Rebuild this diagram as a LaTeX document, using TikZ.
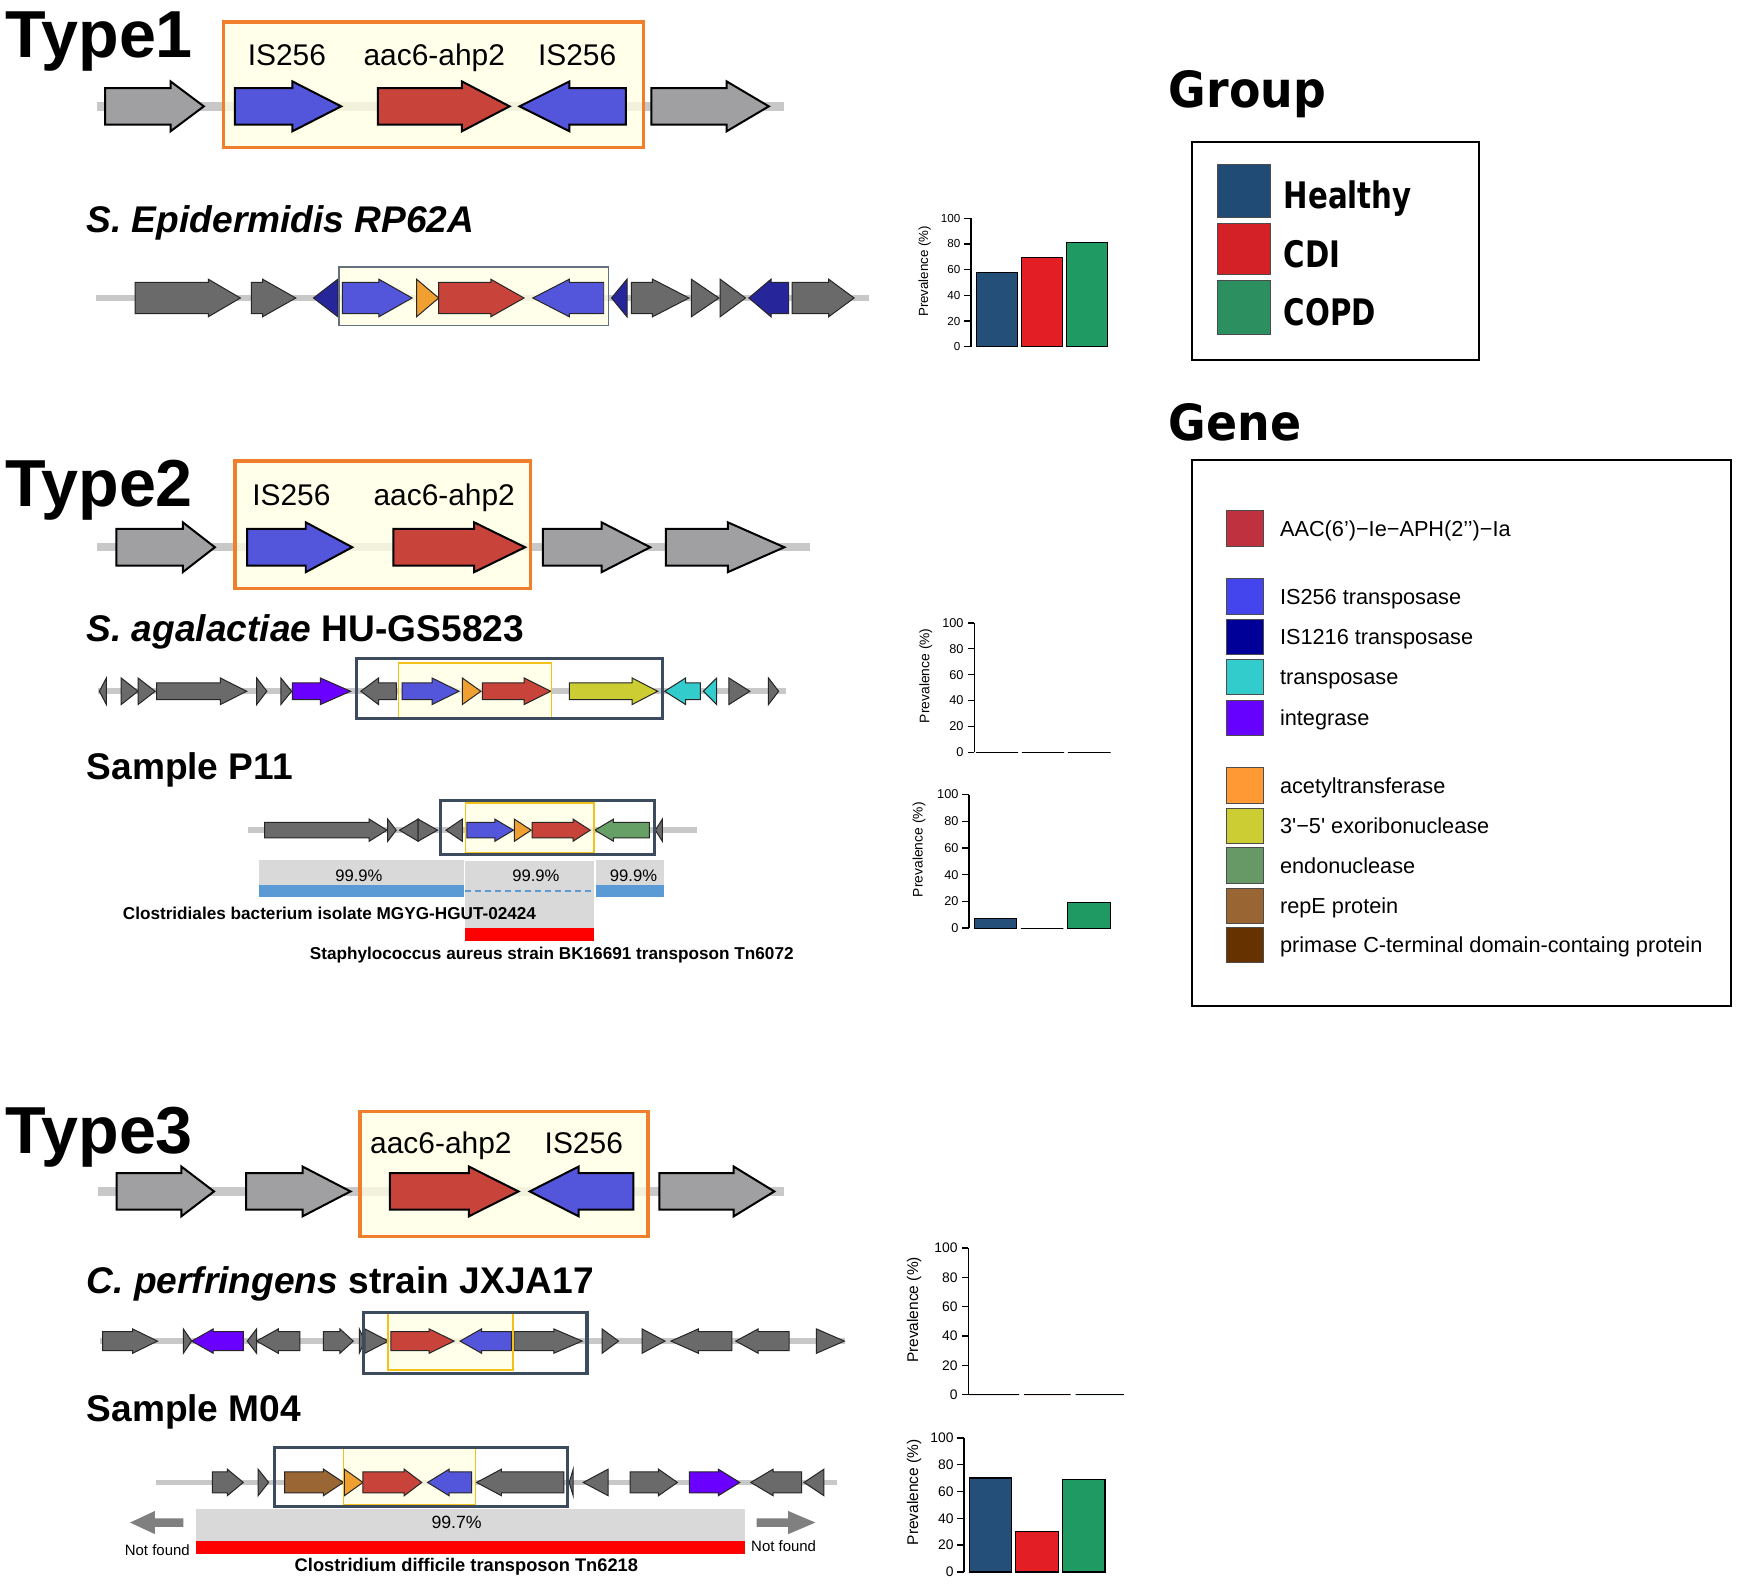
\documentclass[tikz,border=0pt]{standalone}
\usepackage{fontspec}
\setmainfont{Liberation Sans}
\newfontfamily\heavyf[FakeStretch=0.92]{DejaVu Sans}
\newfontfamily\grpf[FakeStretch=0.8]{DejaVu Sans}
\newcommand\fsz[1]{\fontsize{#1}{#1}\selectfont}
\definecolor{gtype}{HTML}{A09FA2}
\definecolor{gdark}{HTML}{6A6A6A}
\definecolor{gblue}{HTML}{5355DB}
\definecolor{gred}{HTML}{C8433A}
\definecolor{gnavy}{HTML}{26269A}
\definecolor{gorange}{HTML}{F0A030}
\definecolor{gpurple}{HTML}{6A00FF}
\definecolor{gcyan}{HTML}{33CCCC}
\definecolor{golive}{HTML}{CCCC33}
\definecolor{ggreen}{HTML}{66A066}
\definecolor{gbrown}{HTML}{9A6633}
\definecolor{boxorange}{HTML}{EF7F2A}
\definecolor{yfill}{HTML}{FFFFE3}
\definecolor{boxnavy}{HTML}{3D4B5F}
\definecolor{boxyellow}{HTML}{F3C11B}
\definecolor{bbgray}{HTML}{C8C8C8}
\definecolor{algray}{HTML}{D9D9D9}
\definecolor{alblue}{HTML}{5B9BD5}
\definecolor{alred}{HTML}{FF0000}
\definecolor{cH}{HTML}{234F78}
\definecolor{cC}{HTML}{E31E24}
\definecolor{cP}{HTML}{1F9A62}
\definecolor{sH}{HTML}{1F4B74}
\definecolor{sC}{HTML}{D42027}
\definecolor{sP}{HTML}{2B8F5F}
\definecolor{lAAC}{HTML}{C0313F}
\definecolor{lIS}{HTML}{4545EE}
\definecolor{lIS1216}{HTML}{000099}
\definecolor{lTr}{HTML}{33CCCC}
\definecolor{lInt}{HTML}{6600FF}
\definecolor{lAc}{HTML}{FF9933}
\definecolor{lExo}{HTML}{CCCC33}
\definecolor{lEndo}{HTML}{669966}
\definecolor{lRep}{HTML}{996633}
\definecolor{lPri}{HTML}{663300}
\tikzset{
  gt/.style={draw=black, line width=1.8pt, line join=miter},
  gm/.style={draw=black!85, line width=0.9pt, line join=miter},
  gs/.style={gt},
  bbt/.style={draw=bbgray, line width=7.5pt},
  bbm/.style={draw=bbgray, line width=5pt},
  obox/.style={draw=boxorange, line width=3pt},
  nbox/.style={draw=boxnavy, line width=3pt},
  ybox/.style={draw=boxyellow, line width=1.5pt},
  yfillst/.style={fill=yfill, fill opacity=0.75},
  typelab/.style={font=\fsz{60}\bfseries, anchor=base west, inner sep=0pt},
  genelab/.style={font=\fsz{27}, anchor=base, inner sep=0pt},
  title/.style={font=\fsz{33.5}\bfseries, anchor=base west, inner sep=0pt},
  alnlab/.style={font=\fsz{15.5}\bfseries, anchor=west, inner sep=0pt},
  pct/.style={font=\fsz{15}, inner sep=0pt},
  bar/.style={draw=black, line width=1pt},
  legsw/.style={draw=black!70, line width=0.8pt},
  leglab/.style={font=\fsz{19.6}, anchor=base west, inner sep=0pt},
  grplab/.style={font=\grpf\bfseries\fsz{33}, anchor=base west, inner sep=0pt},
  header/.style={font=\heavyf\bfseries\fsz{45}, anchor=base west, inner sep=0pt},
}
\newcommand\gArR[4]{\filldraw[gs,fill=#4] (#1,\gy-\gb) -- (#2,\gy-\gb) -- (#2,\gy-\gh) -- (#3,\gy) -- (#2,\gy+\gh) -- (#2,\gy+\gb) -- (#1,\gy+\gb) -- cycle;}
\newcommand\gArL[4]{\filldraw[gs,fill=#4] (#1,\gy) -- (#2,\gy-\gh) -- (#2,\gy-\gb) -- (#3,\gy-\gb) -- (#3,\gy+\gb) -- (#2,\gy+\gb) -- (#2,\gy+\gh) -- cycle;}
\newcommand\gTrR[3]{\filldraw[gs,fill=#3] (#1,\gy-\gh) -- (#2,\gy) -- (#1,\gy+\gh) -- cycle;}
\newcommand\gTrL[3]{\filldraw[gs,fill=#3] (#1,\gy) -- (#2,\gy-\gh) -- (#2,\gy+\gh) -- cycle;}
% chart axes: #1 name, #2 axis x, #3 y0, #4 y100, #5 tick size, #6 label size, #7 label x, #8 label y
\newcommand\chartAxes[8]{%
  \draw[line width=1.2pt] (#2,#3) -- (#2,#4);
  \foreach \v in {0,20,40,60,80,100} {
    \draw[line width=1.2pt] (#2,{#3+(#4-#3)*\v/100}) -- ++(-6,0)
      node[left, inner sep=3pt, font=\fsz{#5}] (#1t\v) {\v};
  }
  \node[rotate=90, font=\fsz{#6}, inner sep=0pt] (#1lab) at (#7,#8) {Prevalence (\%)};
}
% bar: x1 x2 y0 y100 value color
\newcommand\chartBar[6]{\filldraw[bar, fill=#6] (#1,#3) rectangle (#2,{#3+(#4-#3)*#5/100});}
\begin{document}
\begin{tikzpicture}[x=1pt, y=-1pt]
\useasboundingbox (0,0) rectangle (1568,1431.7);
\fill[white] (0,0) rectangle (1568,1431.7);

%================ TYPE 1 =================
\node[typelab] (type1) at (5,52) {Type1};
\draw[bbt] (88,96) -- (708,96);
\fill[yfillst] (202,20) rectangle (581,133);
\def\gy{96}\def\gb{16.5}\def\gh{22.5}
\tikzset{gs/.style={gt}}
\gArR{95}{154}{184}{gtype}
\gArR{212}{264}{308}{gblue}
\gArR{341}{417}{460}{gred}
\gArL{469}{514}{565}{gblue}
\gArR{588}{656}{694}{gtype}
\draw[obox] (202,20) rectangle (581,133);
\node[genelab] (t1a) at (259,59) {IS256};
\node[genelab] (t1b) at (392,59) {aac6-ahp2};
\node[genelab] (t1c) at (521,59) {IS256};

% S. epidermidis
\node[title] (sepi) at (78,210) {\itshape S. Epidermidis RP62A};
\draw[bbm] (87,269) -- (784,269);
\fill[yfillst] (306,241) rectangle (549,294);
\def\gy{269}\def\gb{14}\def\gh{17}
\tikzset{gs/.style={gm}}
\gArR{122}{188}{217}{gdark}
\gArR{227}{237}{267}{gdark}
\gTrL{283}{305}{gnavy}
\gArR{309}{342}{372}{gblue}
\gTrR{376}{396}{gorange}
\gArR{396}{443}{473}{gred}
\gArL{481}{514}{545}{gblue}
\gTrL{552}{566}{gnavy}
\gArR{570}{589}{622}{gdark}
\gTrR{624}{649}{gdark}
\gTrR{650}{673}{gdark}
\gArL{676}{696}{712}{gnavy}
\gArR{715}{748}{771}{gdark}
\draw[draw=boxnavy!80, line width=1.2pt] (306,241) rectangle (549,294);

%================ TYPE 2 =================
\node[typelab] (type2) at (5,457) {Type2};
\draw[bbt] (88,494) -- (731,494);
\fill[yfillst] (212,416) rectangle (479,531);
\def\gy{494}\def\gb{16.5}\def\gh{22.5}
\tikzset{gs/.style={gt}}
\gArR{105}{165}{194}{gtype}
\gArR{223}{276}{318}{gblue}
\gArR{355}{428}{474}{gred}
\gArR{490}{543}{587}{gtype}
\gArR{601}{657}{708}{gtype}
\draw[obox] (212,416) rectangle (479,531);
\node[genelab] (t2a) at (263,456) {IS256};
\node[genelab] (t2b) at (401,456) {aac6-ahp2};

% S. agalactiae
\node[title] (saga) at (78,579) {\itshape S. agalactiae\/\upshape{} HU-GS5823};
\draw[bbm] (88.4,624) -- (709.2,624);
\fill[yfillst] (359.8,598.4) rectangle (497.9,648.6);
\def\gy{624}\def\gb{7.5}\def\gh{12}
\tikzset{gs/.style={gm}}
\gTrL{89.7}{96}{gdark}
\gTrR{109.4}{124.6}{gdark}
\gTrR{124.6}{140.1}{gdark}
\gArR{141.4}{198.9}{222.8}{gdark}
\gTrR{231.7}{240.9}{gdark}
\gTrR{253.5}{263.2}{gdark}
\gArR{264}{289.2}{316.5}{gpurple}
\gArL{325.7}{341.7}{357.7}{gdark}
\gArR{363.1}{390}{414.4}{gblue}
\gTrR{417.3}{434.1}{gorange}
\gArR{435.4}{473.2}{497.1}{gred}
\gArR{513.9}{570.6}{593.7}{golive}
\gArL{600}{618.9}{632.3}{gcyan}
\gTrL{634.9}{647}{gcyan}
\gTrR{658}{676.9}{gdark}
\gTrR{693.7}{702.9}{gdark}
\draw[ybox] (359.8,598.4) rectangle (497.9,648.6);
\draw[nbox] (322,594.7) rectangle (598,648.6);

% Sample P11
\node[title] (p11) at (78,703.6) {Sample P11};
\draw[bbm] (224,749.4) -- (629.4,749.4);
\fill[yfillst] (420.2,724.7) rectangle (536.2,769.8);
\def\gy{749.4}\def\gb{7}\def\gh{10}
\gArR{238.8}{333.3}{349.3}{gdark}
\gTrR{350}{357.7}{gdark}
\gTrL{360.6}{377.4}{gdark}
\gTrR{377.4}{395}{gdark}
\gTrL{402.6}{417.3}{gdark}
\gArR{421.5}{446.7}{463.5}{gblue}
\gTrR{464.3}{479.5}{gorange}
\gArR{480.3}{517.3}{532.8}{gred}
\gArL{537}{553.8}{586.1}{ggreen}
\gTrL{591.6}{597.9}{gdark}
\draw[ybox] (420.2,724.7) rectangle (536.2,769.8);
\draw[nbox] (397.6,722.6) rectangle (590.8,771.3);
% alignments P11
\fill[algray] (233.8,776.7) rectangle (418.6,799);
\fill[algray] (420.2,777.3) rectangle (536.2,837.5);
\fill[algray] (538.3,776.7) rectangle (599.2,799);
\fill[alblue] (233.8,799) rectangle (418.6,809.5);
\fill[alblue] (538.3,799) rectangle (599.2,809.5);
\draw[alblue, line width=1.3pt, dash pattern=on 5pt off 4pt] (420.2,804.4) -- (536.2,804.4);
\fill[alred] (420.2,837.5) rectangle (536.2,849);
\node[pct] (pc1) at (324,791) {99.9\%};
\node[pct] (pc2) at (483.7,791) {99.9\%};
\node[pct] (pc3) at (571.9,791) {99.9\%};
\node[alnlab] (clos) at (110.7,824.5) {Clostridiales bacterium isolate MGYG-HGUT-02424};
\node[alnlab] (staph) at (279.5,862) {Staphylococcus aureus strain BK16691 transposon Tn6072};

%================ TYPE 3 =================
\node[typelab] (type3) at (5,1041) {Type3};
\draw[bbt] (88.4,1075.5) -- (708.1,1075.5);
\fill[yfillst] (325,1003.4) rectangle (585,1116.2);
\def\gy{1075.5}\def\gb{16.5}\def\gh{22.5}
\tikzset{gs/.style={gt}}
\gArR{105.2}{163.7}{193.2}{gtype}
\gArR{222.2}{273.1}{316.4}{gtype}
\gArR{352}{423.2}{468}{gred}
\gArL{478.2}{522.4}{571.8}{gblue}
\gArR{595.2}{662.3}{699}{gtype}
\draw[obox] (325,1003.4) rectangle (585,1116.2);
\node[genelab] (t3a) at (398,1041) {aac6-ahp2};
\node[genelab] (t3b) at (527,1041) {IS256};

% C. perfringens
\node[title] (cperf) at (78,1167.6) {\itshape C. perfringens\/\upshape{} strain JXJA17};
\draw[bbm] (90.4,1210.6) -- (763.2,1210.6);
\fill[yfillst] (350.5,1185.7) rectangle (463,1236.8);
\def\gy{1210.6}\def\gb{8.5}\def\gh{11}
\tikzset{gs/.style={gm}}
\gArR{92.6}{119.7}{142.2}{gdark}
\gTrR{165.5}{173}{gdark}
\gArL{173}{192.5}{219.6}{gpurple}
\gTrL{223.2}{231.6}{gdark}
\gArL{231.6}{251.2}{270.8}{gdark}
\gArR{291.8}{306.9}{318.9}{gdark}
\gTrR{324.3}{329.4}{gdark}
\gTrR{329.4}{350.5}{gdark}
\gArR{352.8}{387.4}{409.9}{gred}
\gArL{415.3}{434.7}{461.7}{gblue}
\gArR{463.9}{499.9}{525.6}{gdark}
\gTrR{543.5}{558.4}{gdark}
\gTrR{579.6}{600.3}{gdark}
\gArL{605.7}{630.4}{660.6}{gdark}
\gArL{664.2}{684.4}{712.3}{gdark}
\gTrR{737}{762.2}{gdark}
\draw[ybox] (350.5,1185.7) rectangle (463,1236.8);
\draw[nbox] (328,1185) rectangle (530,1239.8);

% Sample M04
\node[title] (m04) at (78,1283.4) {Sample M04};
\draw[bbm] (140.8,1338.2) -- (755.5,1338.2);
\fill[yfillst] (310,1307.5) rectangle (429.3,1358.6);
\def\gy{1338.2}\def\gb{9.5}\def\gh{12}
\gArR{191.7}{205.2}{219.6}{gdark}
\gTrR{233}{242.5}{gdark}
\gArR{256.9}{292}{310}{gbrown}
\gTrR{310.9}{327.6}{gorange}
\gArR{327.6}{364.9}{380.7}{gred}
\gArL{386}{405.4}{425.7}{gblue}
\gArL{430.2}{452.7}{508.9}{gdark}
\gTrL{513.8}{517.4}{gdark}
\gTrL{526.5}{549}{gdark}
\gArR{568.8}{594.4}{611.5}{gdark}
\gArR{622.3}{648.4}{667.8}{gpurple}
\gArL{677.7}{697.9}{723.6}{gdark}
\gTrL{725.8}{743.8}{gdark}
\draw[ybox] (310,1307.5) rectangle (429.3,1358.6);
\draw[nbox] (247.9,1306.9) rectangle (512.5,1360);
% alignment M04
\fill[algray] (176.8,1362.2) rectangle (672.3,1391);
\fill[alred] (176.8,1391) rectangle (672.3,1403);
\node[pct, font=\fsz{16}] (pc4) at (412.2,1374.3) {99.7\%};
\fill[gray] (117.4,1374.4) -- (139.9,1363.9) -- (139.9,1370.6) -- (165.6,1370.6) -- (165.6,1378.2) -- (139.9,1378.2) -- (139.9,1384.9) -- cycle;
\fill[gray] (736,1374.4) -- (711.4,1363.9) -- (711.4,1370.6) -- (683,1370.6) -- (683,1378.2) -- (711.4,1378.2) -- (711.4,1384.9) -- cycle;
\node[font=\fsz{13.5}, inner sep=0pt] (nf1) at (142,1399.5) {Not found};
\node[font=\fsz{13.5}, inner sep=0pt] (nf2) at (707.4,1396) {Not found};
\node[font=\fsz{16.5}\bfseries, inner sep=0pt] (cdif) at (421,1414.5) {Clostridium difficile transposon Tn6218};

%================ CHARTS =================
\chartAxes{cA}{876.5}{313}{197}{10.5}{12}{834.6}{245}
\chartBar{881.5}{918.5}{313}{197}{57.6}{cH}
\chartBar{922.3}{959.3}{313}{197}{69.4}{cC}
\chartBar{963}{1000}{313}{197}{81.3}{cP}

\chartAxes{cB}{879.4}{679}{562.3}{11.5}{12.5}{835.7}{610}
\chartBar{881}{919}{679}{562.3}{0}{cH}
\chartBar{922.5}{960.5}{679}{562.3}{0}{cC}
\chartBar{964}{1002.6}{679}{562.3}{0}{cP}

\chartAxes{cC}{874.8}{837.8}{717.2}{11.5}{12.5}{829.7}{767}
\chartBar{879.3}{917.8}{837.8}{717.2}{7}{cH}
\chartBar{921.5}{960}{837.8}{717.2}{0}{cC}
\chartBar{963.8}{1002.3}{837.8}{717.2}{19}{cP}

\chartAxes{cD}{874}{1259}{1126.7}{12.5}{14}{825.2}{1182.5}
\chartBar{874.8}{919.9}{1259}{1126.7}{0}{cH}
\chartBar{924.4}{966.5}{1259}{1126.7}{0}{cC}
\chartBar{971}{1014.6}{1259}{1126.7}{0}{cP}

\chartAxes{cE}{870.3}{1419}{1298}{12.5}{14}{825.2}{1347}
\chartBar{874.8}{913.3}{1419}{1298}{70.1}{cH}
\chartBar{916.9}{955.4}{1419}{1298}{30.3}{cC}
\chartBar{959}{997.5}{1419}{1298}{68.9}{cP}

%================ LEGENDS =================
\node[header] (grp) at (1055,97) {Group};
\draw[line width=1.5pt] (1076,128) rectangle (1335,325);
\filldraw[legsw, fill=sH] (1098.8,148.3) rectangle (1147,196);
\filldraw[legsw, fill=sC] (1098.8,201.5) rectangle (1147,248);
\filldraw[legsw, fill=sP] (1098.8,253.6) rectangle (1147,302);
\node[grplab] (lh) at (1158.6,188) {Healthy};
\node[grplab] (lc) at (1158.6,241.5) {CDI};
\node[grplab] (lp) at (1158.6,293.7) {COPD};

\node[header] (gene) at (1055,398) {Gene};
\draw[line width=1.5pt] (1076,415.5) rectangle (1562.6,908);
\foreach \c/\col/\txt [count=\i] in {
  477/lAAC/{AAC(6’)−Ie−APH(2’’)−Ia},
  538.4/lIS/{IS256 transposase},
  574.8/lIS1216/{IS1216 transposase},
  611.3/lTr/{transposase},
  648.1/lInt/{integrase},
  709.2/lAc/{acetyltransferase},
  745.5/lExo/{3\textquotesingle−5\textquotesingle{} exoribonuclease},
  781.4/lEndo/{endonuclease},
  817.9/lRep/{repE protein},
  853/lPri/{primase C-terminal domain-containg protein}} {
  \filldraw[legsw, fill=\col] (1107.4,\c-16) rectangle (1140.1,\c+16);
  \node[leglab] (leg\i) at (1155.3,\c+6.9) {\txt};
}
\end{tikzpicture}
\end{document}
